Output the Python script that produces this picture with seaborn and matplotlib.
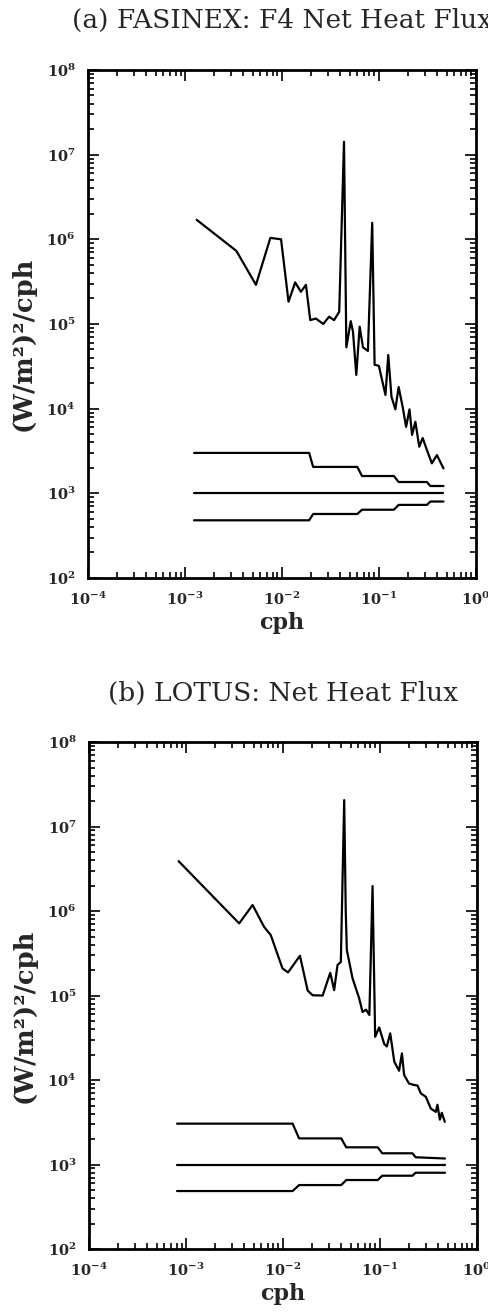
import numpy as np
import pandas as pd
import matplotlib
matplotlib.use('Agg')
import matplotlib.pyplot as plt
import matplotlib.ticker as mticker
import seaborn as sns

# spectrum (a) FASINEX F4
freq_a = [1.32e-3, 3.39e-3, 5.4e-3, 7.6e-3, 9.8e-3, 1.17e-2, 1.37e-2, 1.57e-2, 1.77e-2, 1.96e-2,
          2.24e-2, 2.67e-2, 3.07e-2, 3.45e-2, 3.9e-2, 4.37e-2, 4.62e-2, 5.13e-2, 5.41e-2, 5.85e-2,
          6.34e-2, 6.86e-2, 7.71e-2, 8.54e-2, 9.04e-2, 0.1, 0.117, 0.125, 0.135, 0.148,
          0.160, 0.176, 0.191, 0.207, 0.22, 0.238, 0.261, 0.283, 0.313, 0.352, 0.397, 0.464]
psd_a = [1.7e6, 7.3e5, 2.9e5, 1.04e6, 1.0e6, 1.83e5, 3.1e5, 2.4e5, 2.9e5, 1.11e5,
         1.16e5, 1.0e5, 1.22e5, 1.11e5, 1.39e5, 1.42e7, 5.3e4, 1.08e5, 8.1e4, 2.5e4,
         9.3e4, 5.3e4, 4.8e4, 1.57e6, 3.3e4, 3.2e4, 1.45e4, 4.3e4, 1.38e4, 9.8e3,
         1.8e4, 1.05e4, 6.1e3, 9.8e3, 4.9e3, 7.0e3, 3.55e3, 4.5e3, 3.25e3, 2.26e3, 2.83e3, 1.97e3]

# confidence bands (a)
band_x_a = [1.24e-3, 1.91e-2, 2.1e-2, 6.0e-2, 6.7e-2, 0.143, 0.16, 0.313, 0.34, 0.464]
upper_a = [3.0e3, 3.0e3, 2.05e3, 2.05e3, 1.6e3, 1.6e3, 1.36e3, 1.36e3, 1.22e3, 1.22e3]
mid_a = [1.0e3] * 10
lower_a = [480, 480, 570, 570, 640, 640, 730, 730, 800, 800]

# spectrum (b) LOTUS
freq_b = [8.4e-4, 3.54e-3, 4.87e-3, 6.4e-3, 7.5e-3, 9.9e-3, 1.13e-2, 1.5e-2, 1.8e-2, 2.02e-2,
          2.57e-2, 3.08e-2, 3.38e-2, 3.66e-2, 3.96e-2, 4.29e-2, 4.45e-2, 4.57e-2, 5.23e-2, 6.12e-2,
          6.63e-2, 7.2e-2, 7.8e-2, 8.41e-2, 8.95e-2, 9.85e-2, 0.111, 0.118, 0.128, 0.141,
          0.158, 0.169, 0.178, 0.2, 0.222, 0.245, 0.265, 0.298, 0.336, 0.378,
          0.393, 0.416, 0.436, 0.468]
psd_b = [3.9e6, 7.15e5, 1.18e6, 6.5e5, 5.2e5, 2.1e5, 1.88e5, 2.96e5, 1.15e5, 1.01e5,
         1.0e5, 1.86e5, 1.16e5, 2.3e5, 2.5e5, 2.06e7, 1.0e6, 3.45e5, 1.6e5, 9.3e4,
         6.4e4, 6.8e4, 5.9e4, 1.98e6, 3.25e4, 4.2e4, 2.67e4, 2.5e4, 3.57e4, 1.65e4,
         1.29e4, 2.07e4, 1.15e4, 9.1e3, 8.8e3, 8.6e3, 6.95e3, 6.35e3, 4.6e3, 4.2e3,
         5.1e3, 3.4e3, 4.1e3, 3.2e3]

# confidence bands (b)
band_x_b = [8.1e-4, 1.26e-2, 1.47e-2, 4.0e-2, 4.5e-2, 9.5e-2, 0.106, 0.217, 0.234, 0.47]
upper_b = [3.05e3, 3.05e3, 2.04e3, 2.04e3, 1.6e3, 1.6e3, 1.36e3, 1.36e3, 1.22e3, 1.18e3]
mid_b = [1.0e3] * 10
lower_b = [486, 486, 572, 572, 656, 656, 738, 738, 800, 800]

titles = ['(a) FASINEX: F4 Net Heat Flux', '(b) LOTUS: Net Heat Flux']

sns.set_style('ticks')
plt.rcParams['font.family'] = ['DejaVu Serif']
plt.rcParams['mathtext.fontset'] = 'dejavuserif'

fig = plt.figure(figsize=(4.89, 13.13), dpi=100)
ax_a = fig.add_axes([0.180, 0.5598, 0.793, 0.3869])
ax_b = fig.add_axes([0.182, 0.0487, 0.793, 0.3861])

panels = [
    (ax_a, freq_a, psd_a, band_x_a, [upper_a, mid_a, lower_a]),
    (ax_b, freq_b, psd_b, band_x_b, [upper_b, mid_b, lower_b]),
]


def pow_label(v, pos):
    e = int(round(np.log10(v)))
    return r'$\mathbf{10^{%d}}$' % e


for i, (ax, fx, py, bx, bands) in enumerate(panels):
    df = pd.DataFrame({'cph': fx, 'psd': py})
    sns.lineplot(data=df, x='cph', y='psd', ax=ax, color='black', lw=1.6,
                 estimator=None, sort=False)
    for b in bands:
        bdf = pd.DataFrame({'cph': bx, 'psd': b})
        sns.lineplot(data=bdf, x='cph', y='psd', ax=ax, color='black', lw=1.6,
                     estimator=None, sort=False)
    ax.set_xscale('log')
    ax.set_yscale('log')
    ax.set_xlim(1e-4, 1e0)
    ax.set_ylim(1e2, 1e8)
    ax.xaxis.set_major_locator(mticker.LogLocator(base=10, numticks=10))
    ax.yaxis.set_major_locator(mticker.LogLocator(base=10, numticks=10))
    ax.xaxis.set_minor_locator(mticker.LogLocator(base=10, subs=np.arange(2, 10), numticks=20))
    ax.yaxis.set_minor_locator(mticker.LogLocator(base=10, subs=np.arange(2, 10), numticks=20))
    ax.xaxis.set_minor_formatter(mticker.NullFormatter())
    ax.yaxis.set_minor_formatter(mticker.NullFormatter())
    ax.xaxis.set_major_formatter(mticker.FuncFormatter(pow_label))
    ax.yaxis.set_major_formatter(mticker.FuncFormatter(pow_label))
    ax.tick_params(which='both', direction='in', top=True, right=True, width=1.2,
                   labelsize=10.5, color='black')
    ax.tick_params(which='major', length=8, pad=9)
    ax.tick_params(which='minor', length=4)
    for s in ax.spines.values():
        s.set_linewidth(2)
        s.set_color('black')
    ax.set_xlabel('cph', fontsize=16, fontweight='bold', labelpad=3)
    ax.set_ylabel('(W/m²)²/cph', fontsize=18.5, fontweight='bold')
    ax.yaxis.set_label_coords(-0.135, 0.46)
    ax.set_title(titles[i], fontsize=19, pad=30)

fig.savefig('out.png', dpi=100, facecolor='white')
